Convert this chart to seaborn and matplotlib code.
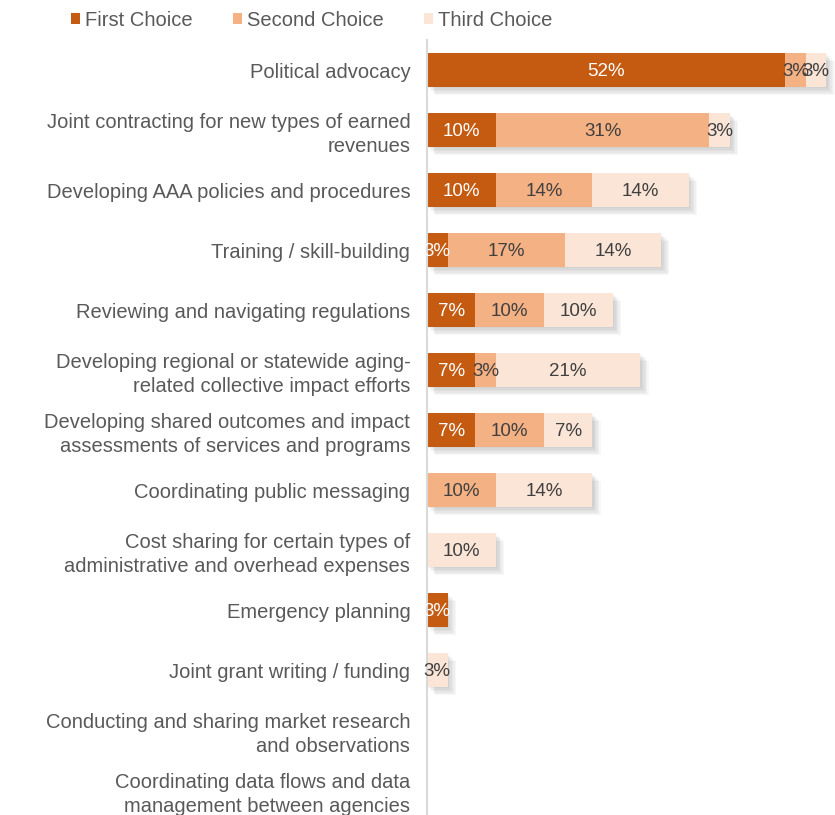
import matplotlib
matplotlib.use("Agg")
import matplotlib.pyplot as plt
import matplotlib.patheffects as pe
from matplotlib.patches import Patch
import seaborn as sns
import pandas as pd

categories = [
    "Political advocacy",
    "Joint contracting for new types of earned\nrevenues",
    "Developing AAA policies and procedures",
    "Training / skill-building",
    "Reviewing and navigating regulations",
    "Developing regional or statewide aging-\nrelated collective impact efforts",
    "Developing shared outcomes and impact\nassessments of services and programs",
    "Coordinating public messaging",
    "Cost sharing for certain types of\nadministrative and overhead expenses",
    "Emergency planning",
    "Joint grant writing / funding",
    "Conducting and sharing market research\nand observations",
    "Coordinating data flows and data\nmanagement between agencies",
]
first_choice = [52, 10, 10, 3, 7, 7, 7, 0, 0, 3, 0, 0, 0]
second_choice = [3, 31, 14, 17, 10, 3, 10, 10, 0, 0, 0, 0, 0]
third_choice = [3, 3, 14, 14, 10, 21, 7, 14, 10, 0, 3, 0, 0]
series_names = ["First Choice", "Second Choice", "Third Choice"]

colors = ["#C55A11", "#F4B183", "#FBE5D6"]
label_colors = ["white", "#404040", "#404040"]
text_color = "#595959"

sns.set_theme(style="white")
plt.rcParams["font.family"] = ["Liberation Sans", "DejaVu Sans"]

df = pd.DataFrame({
    "category": categories,
    "first": first_choice,
    "second": second_choice,
    "third": third_choice,
})
df["cum1"] = df["first"]
df["cum2"] = df["first"] + df["second"]
df["cum3"] = df["cum2"] + df["third"]

fig = plt.figure(figsize=(8.35, 8.15), dpi=100)
ax = fig.add_axes([427 / 835, -5 / 815, 408 / 835, 780 / 815])

# Soft drop shadow under each full stacked bar
shadow = [
    pe.SimplePatchShadow(offset=(o, -o), shadow_rgbFace="black", alpha=0.03)
    for o in (1, 2, 3, 4, 5, 6)
] + [pe.Normal()]

# Stacked bars: draw cumulative totals from widest to narrowest
sns.barplot(data=df, y="category", x="cum3", color=colors[2], saturation=1,
            width=0.57, orient="h", ax=ax, linewidth=0)
for p in ax.patches:
    p.set_path_effects(shadow)
sns.barplot(data=df, y="category", x="cum2", color=colors[1], saturation=1,
            width=0.57, orient="h", ax=ax, linewidth=0)
sns.barplot(data=df, y="category", x="cum1", color=colors[0], saturation=1,
            width=0.57, orient="h", ax=ax, linewidth=0)

# Segment value labels
series = [first_choice, second_choice, third_choice]
for i in range(len(categories)):
    left = 0
    for s, vals in enumerate(series):
        v = vals[i]
        if v > 0:
            ax.text(left + v / 2, i + 0.03, f"{v}%", ha="center", va="center",
                    color=label_colors[s], fontsize=13.5)
        left += v

ax.set_xlim(0, 408 / 6.885)
ax.set_ylim(len(categories) - 0.5, -0.5)
ax.set_xlabel("")
ax.set_ylabel("")
ax.set_xticks([])
ax.tick_params(axis="y", length=0, pad=12, labelsize=14.5, labelcolor=text_color)
for lbl in ax.get_yticklabels():
    lbl.set_linespacing(1.32)
    lbl.set_horizontalalignment("right")
for side in ["top", "right", "bottom"]:
    ax.spines[side].set_visible(False)
ax.spines["left"].set_color("#D9D9D9")
ax.spines["left"].set_linewidth(1.5)

handles = [Patch(facecolor=c, edgecolor="none", label=n) for c, n in zip(colors, series_names)]
leg = fig.legend(handles=handles, loc="center left", bbox_to_anchor=(71 / 835, 1 - 20 / 815),
                 ncol=3, frameon=False, fontsize=14.5, handlelength=0.45, handleheight=0.45,
                 handletextpad=0.25, columnspacing=2.0, borderaxespad=0, borderpad=0)
for t in leg.get_texts():
    t.set_color(text_color)

fig.savefig("out.png", dpi=100)
